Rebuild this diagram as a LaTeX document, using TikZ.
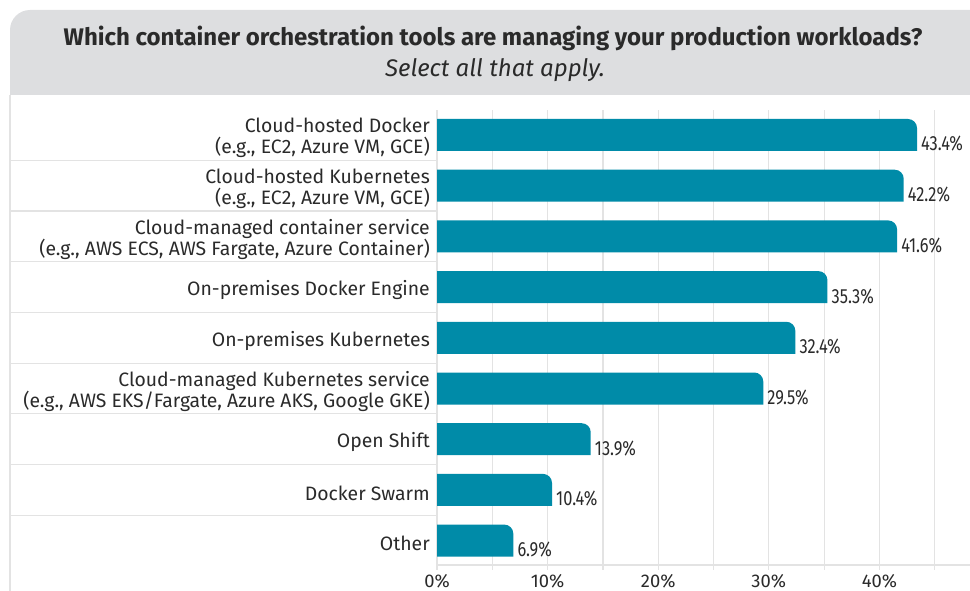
\documentclass[tikz,border=0pt]{standalone}
\usepackage{fontspec}
\setmainfont{Fira Sans}
\usepackage{graphicx}
\definecolor{barteal}{HTML}{008BA8}
\definecolor{headgray}{HTML}{DDDEE0}
\definecolor{gridgray}{HTML}{E3E3E3}
\definecolor{inkgray}{HTML}{2A2A2A}
\tikzset{
  rowlabel/.style={anchor=east, align=right, font=\fontsize{19.4}{21}\selectfont},
  pctlabel/.style={anchor=west, font=\fontsize{20.5}{20}\selectfont},
  ticklabel/.style={font=\fontsize{18.4}{18}\selectfont},
}

\begin{document}
\begin{tikzpicture}[x=1pt,y=-1pt, every node/.style={inner sep=0pt, text=inkgray}]
	\useasboundingbox (0,0) rectangle (970,591);

	% header band
	\fill[headgray] (10,95) [rounded corners=20] -- (10,10) [sharp corners] -- (970,10) -- (970,95) -- cycle;
	\node[font=\bfseries\fontsize{24}{24}\selectfont] (title) at (493,38) {Which container orchestration tools are managing your production workloads?};
	\node[font=\itshape\fontsize{24}{24}\selectfont] (subtitle) at (495,70) {Select all that apply.};

	% frame and grid
	\draw[gridgray, line width=1.2] (10,95) -- (10,591);
	\foreach \g in {0,5,...,45}
		\draw[gridgray, line width=1.2] (437+11.06*\g,110) -- (437+11.06*\g,570);
	\foreach \k in {1,...,8}
		\draw[gridgray, line width=1.2] (10,160.3+50.7*\k-50.7) -- (437,160.3+50.7*\k-50.7);
	\draw[gridgray, line width=1.2] (437,565) -- (970,565);

	% bars
	\foreach \v/\t [count=\i] in {43.4/{Cloud-hosted Docker\\(e.g., EC2, Azure VM, GCE)},
		42.2/{Cloud-hosted Kubernetes\\(e.g., EC2, Azure VM, GCE)},
		41.6/{Cloud-managed container service\\(e.g., AWS ECS, AWS Fargate, Azure Container)},
		35.3/{On-premises Docker Engine},
		32.4/{On-premises Kubernetes},
		29.5/{Cloud-managed Kubernetes service\\(e.g., AWS EKS/Fargate, Azure AKS, Google GKE)},
		13.9/{Open Shift},
		10.4/{Docker Swarm},
		6.9/{Other}}
	{
		\pgfmathsetmacro\cy{135+50.7*(\i-1)}
		\pgfmathsetmacro\ex{437+11.06*\v}
		\fill[barteal] (437,\cy+16) -- (437,\cy-16) [rounded corners=9] -- (\ex,\cy-16) [sharp corners] -- (\ex,\cy+16) -- cycle;
		\coordinate (end\i) at (\ex,\cy+9);
		\node[rowlabel] (lab\i) at (430,\cy+3) {\t};
		\node[pctlabel] (pct\i) at ([xshift=4pt]end\i) {\scalebox{0.8}[1]{\v\%}};
	}

	% axis
	\foreach \p [count=\j] in {0,10,...,40}
		\node[ticklabel] (tick\j) at (437+11.06*\p,581) {\p\%};

\end{tikzpicture}
\end{document}
